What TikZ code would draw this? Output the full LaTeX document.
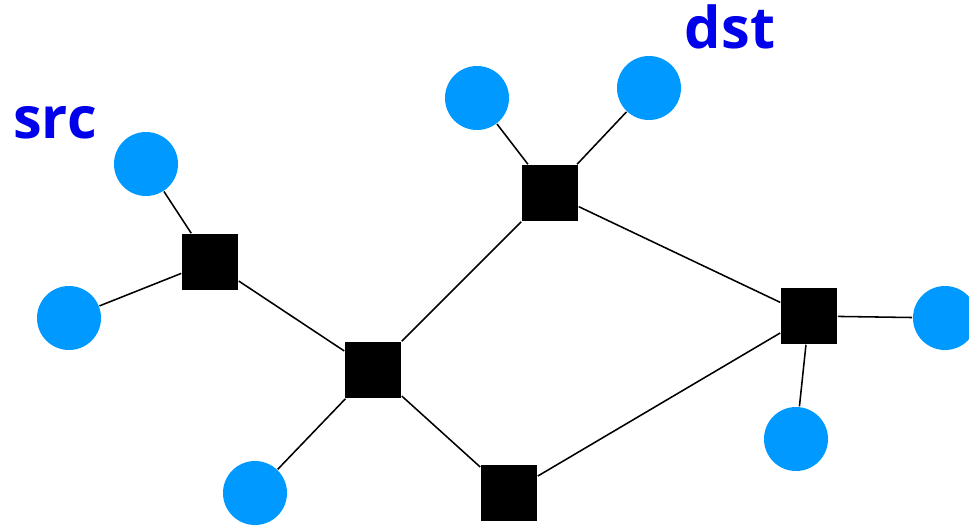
\documentclass[tikz,border=0pt]{standalone}
\usepackage{fontspec}
\setsansfont{Open Sans}
\usepackage{tikz}

\definecolor{hostblue}{RGB}{0,153,255}
\definecolor{labelblue}{RGB}{0,0,235}

\begin{document}
\begin{tikzpicture}[x=0.025cm, y=-0.025cm, line width=1.1pt,
    host/.style={circle, fill=hostblue, minimum size=1.6cm, inner sep=0pt},
    router/.style={rectangle, fill=black, minimum size=1.4cm, inner sep=0pt},
    tag/.style={font=\sffamily\bfseries\fontsize{41}{41}\selectfont, text=labelblue, anchor=base}]
    \useasboundingbox (0, 0) rectangle (969, 527);

    % routers
    \node[router] (R1) at (210, 262) {};
    \node[router] (R2) at (373, 370) {};
    \node[router] (R3) at (550, 193) {};
    \node[router] (R4) at (809, 316) {};
    \node[router] (R5) at (509, 493) {};

    % hosts
    \node[host] (H1) at (146, 164) {};
    \node[host] (H2) at (69, 318) {};
    \node[host] (H3) at (477, 98) {};
    \node[host] (H4) at (649, 88) {};
    \node[host] (H5) at (945, 318) {};
    \node[host] (H6) at (796, 439) {};
    \node[host] (H7) at (255, 493) {};

    % labels
    \node[tag] (src) at (55, 138) {src};
    \node[tag] (dst) at (730, 48) {dst};

    % links
    \draw (H1) -- (R1);
    \draw (H2) -- (R1);
    \draw (R1) -- (R2);
    \draw (R2) -- (R3);
    \draw (R2) -- (H7);
    \draw (R2) -- (R5);
    \draw (R3) -- (H3);
    \draw (R3) -- (H4);
    \draw (R3) -- (R4);
    \draw (R5) -- (R4);
    \draw (R4) -- (H5);
    \draw (R4) -- (H6);
\end{tikzpicture}
\end{document}
